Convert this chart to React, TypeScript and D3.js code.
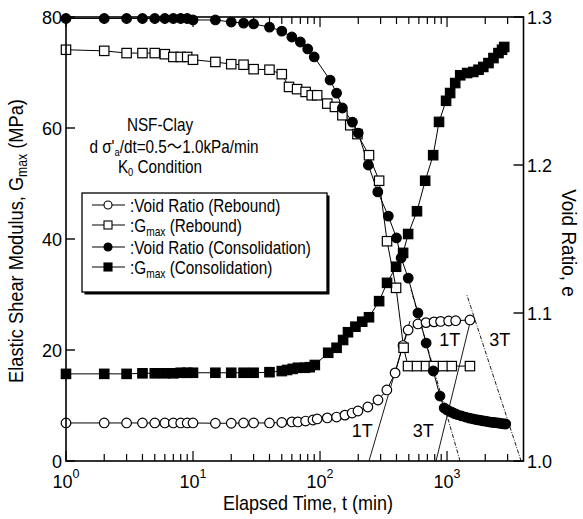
import React from "react";
import * as d3 from "d3";

// ---------- data ----------
// Consolidation: void ratio (filled circles)
const consVoidT = [1, 2, 3, 4, 5, 6, 7, 8, 9, 10, 15, 20, 25, 30, 40, 50, 60, 70, 80, 90, 120, 135, 150, 180, 200, 240, 285, 345, 400, 435, 495, 590, 685, 780, 880,
  950, 1000, 1050, 1100, 1150, 1200, 1300, 1400, 1500, 1600, 1700, 1800, 1900, 2000, 2100, 2200, 2300, 2400, 2500, 2600, 2700, 2800, 2900];
const consVoidE = [1.299, 1.299, 1.299, 1.299, 1.299, 1.299, 1.299, 1.299, 1.299, 1.298, 1.298, 1.2966, 1.2959, 1.2953, 1.2932, 1.2905, 1.2865, 1.2831, 1.2784, 1.273, 1.2574, 1.2486, 1.2385, 1.229, 1.2216, 1.2, 1.1818, 1.1655, 1.1507, 1.1372, 1.1236, 1.1, 1.0797, 1.0608, 1.0439,
  1.0358, 1.0345, 1.0335, 1.0328, 1.032, 1.0314, 1.0305, 1.0297, 1.029, 1.0284, 1.028, 1.0276, 1.0272, 1.0269, 1.0266, 1.0263, 1.0261, 1.0259, 1.0257, 1.0255, 1.0253, 1.0251, 1.025];

// Consolidation: Gmax (filled squares)
const consGT = [1, 2, 3, 4, 5, 6, 7, 8, 9, 10, 15, 20, 25, 30, 40, 50, 55, 61, 67, 76, 83, 91, 116, 135, 152, 166, 190, 215, 243, 292, 337, 397, 451, 494, 580, 673, 778, 865, 983, 1058, 1160, 1270, 1440, 1610, 1770, 1930, 2120, 2320, 2540, 2710, 2820];
const consG = [15.7, 15.7, 15.7, 15.8, 15.8, 15.8, 15.8, 15.9, 15.9, 15.9, 15.9, 15.9, 15.9, 15.9, 16.0, 16.2, 16.4, 16.6, 16.8, 16.8, 16.9, 17.3, 19.5, 20.4, 21.8, 23.2, 24.2, 25.1, 25.9, 28.8, 32.1, 35.0, 37.5, 40.9, 45.0, 50.5, 55.1, 61.1, 64.9, 66.3, 68.1, 69.5, 69.9, 70.1, 70.5, 71.0, 71.7, 72.6, 73.5, 74.1, 74.6];

// Rebound: Gmax (open squares)
const rebGT = [1, 2, 3, 4, 5, 6, 7, 8, 9, 10, 15, 20, 25, 30, 40, 50, 57, 66, 77, 86, 95, 114, 131, 150, 173, 197, 243, 292, 337, 397, 455, 493, 580, 683, 787, 930, 1090, 1515];
const rebG = [74.1, 73.9, 73.5, 73.5, 73.5, 73.3, 72.8, 72.8, 72.8, 72.3, 71.9, 71.5, 71.4, 70.6, 70.5, 69.7, 67.4, 67.0, 66.5, 65.9, 65.9, 64.4, 63.8, 62.3, 60.5, 58.9, 55.1, 50.5, 39.6, 31.2, 20.4, 17.1, 17.1, 17.1, 17.1, 17.1, 17.1, 17.1];

// Rebound: void ratio (open circles)
const rebVoidT = [1, 2, 3, 4, 5, 6, 7, 8, 9, 10, 15, 20, 25, 30, 40, 50, 60, 67, 77, 88, 95, 114, 135, 157, 179, 199, 238, 286, 336, 390, 450, 494, 590, 683, 790, 890, 1030, 1170, 1515];
const rebVoidE = [1.0257, 1.0257, 1.0257, 1.0257, 1.0257, 1.0257, 1.0257, 1.0257, 1.0257, 1.0257, 1.0255, 1.0255, 1.0257, 1.0257, 1.0257, 1.026, 1.0264, 1.0264, 1.027, 1.0277, 1.0284, 1.0291, 1.0297, 1.031, 1.0324, 1.0338, 1.0365, 1.0412, 1.048, 1.0595, 1.078, 1.0885, 1.0926, 1.0935, 1.094, 1.0943, 1.0946, 1.0948, 1.0953];

// Construction lines (t, e)
const tangentSolid = [
  [[243, 1.0], [511, 1.0946]],
  [[819, 1.0], [1531, 1.095]],
];
const tangentDashed = [
  [[1266, 1.0], [521, 1.1155]],
  [[3828, 1.0], [1436, 1.112]],
];
const constructLabels = [
  { t: 215, e: 1.0165, text: "1T" },
  { t: 650, e: 1.0165, text: "3T" },
  { t: 1050, e: 1.0775, text: "1T" },
  { t: 2600, e: 1.0775, text: "3T" },
];

const gTicks = [0, 20, 40, 60, 80];
const eTicks = [1.0, 1.1, 1.2, 1.3];
const eTickLabels = ["1.0", "1.1", "1.2", "1.3"];
const decadeExps = [0, 1, 2, 3];

const legendItems = [
  { label: ":Void Ratio (Rebound)", sub: "", rest: "", shape: "circle", filled: false },
  { label: ":G", sub: "max", rest: " (Rebound)", shape: "square", filled: false },
  { label: ":Void Ratio (Consolidation)", sub: "", rest: "", shape: "circle", filled: true },
  { label: ":G", sub: "max", rest: " (Consolidation)", shape: "square", filled: true },
];

const FONT = "'Liberation Sans', Arial, 'Noto Sans CJK JP', sans-serif";

export default function App() {
  const x = d3.scaleLog().domain([1, 4000]).range([66, 523.5]);
  const yG = d3.scaleLinear().domain([0, 80]).range([461, 17]);
  const yE = d3.scaleLinear().domain([1.0, 1.3]).range([461, 17]);
  const [x0, x1] = x.range();
  const yTop = 17, yBot = 461;

  const lineE = d3.line<number[]>().x((d) => x(d[0])).y((d) => yE(d[1]));
  const lineG = d3.line<number[]>().x((d) => x(d[0])).y((d) => yG(d[1]));

  const cv = consVoidT.map((t, i) => [t, consVoidE[i]]);
  const cg = consGT.map((t, i) => [t, consG[i]]);
  const rg = rebGT.map((t, i) => [t, rebG[i]]);
  const rv = rebVoidT.map((t, i) => [t, rebVoidE[i]]);

  // log ticks
  const logTicks: { t: number; major: boolean }[] = [];
  decadeExps.forEach((p) => {
    for (let m = 1; m <= 9; m++) {
      const t = m * Math.pow(10, p);
      if (t < 4000) logTicks.push({ t, major: m === 1 });
    }
  });

  const R = 4.8;
  const S = 9.4;
  const circle = (cx: number, cy: number, filled: boolean, key: any) => (
    <circle key={key} cx={cx} cy={cy} r={R} fill={filled ? "#000" : "#fff"} stroke="#000" strokeWidth={1.2} />
  );
  const square = (cx: number, cy: number, filled: boolean, key: any) => (
    <rect key={key} x={cx - S / 2} y={cy - S / 2} width={S} height={S} fill={filled ? "#000" : "#fff"} stroke="#000" strokeWidth={1.2} />
  );

  return (
    <svg width={583} height={519} style={{ position: "absolute", left: 0, top: 0, background: "#fff" }} fontFamily={FONT}>
      <rect x={0} y={0} width={583} height={519} fill="#fff" />

      {/* construction lines */}
      {tangentSolid.map((seg, i) => (
        <path key={"ts" + i} d={lineE(seg as number[][]) || ""} fill="none" stroke="#000" strokeWidth={0.9} />
      ))}
      {tangentDashed.map((seg, i) => (
        <path key={"td" + i} d={lineE(seg as number[][]) || ""} fill="none" stroke="#000" strokeWidth={0.9} strokeDasharray="4 1.5 1 1.5" />
      ))}
      {constructLabels.map((l, i) => (
        <text key={"cl" + i} x={x(l.t)} y={yE(l.e)} fontSize={18} textAnchor="middle">{l.text}</text>
      ))}

      {/* series lines */}
      <path d={lineE(rv) || ""} fill="none" stroke="#000" strokeWidth={1} />
      <path d={lineG(rg) || ""} fill="none" stroke="#000" strokeWidth={1} />
      <path d={lineE(cv) || ""} fill="none" stroke="#000" strokeWidth={1} />
      <path d={lineG(cg) || ""} fill="none" stroke="#000" strokeWidth={1} />

      {/* markers */}
      {rv.map((d, i) => circle(x(d[0]), yE(d[1]), false, "rv" + i))}
      {rg.map((d, i) => square(x(d[0]), yG(d[1]), false, "rg" + i))}
      {cv.map((d, i) => circle(x(d[0]), yE(d[1]), true, "cv" + i))}
      {cg.map((d, i) => square(x(d[0]), yG(d[1]), true, "cg" + i))}

      {/* frame */}
      <rect x={x0} y={yTop} width={x1 - x0} height={yBot - yTop} fill="none" stroke="#000" strokeWidth={1.6} />

      {/* x ticks bottom & top */}
      {logTicks.map((tk, i) => {
        const xx = x(tk.t);
        const len = tk.major ? 10 : 7;
        return (
          <g key={"xt" + i}>
            <line x1={xx} x2={xx} y1={yBot} y2={yBot - len} stroke="#000" strokeWidth={1.2} />
            <line x1={xx} x2={xx} y1={yTop} y2={yTop + len} stroke="#000" strokeWidth={1.2} />
          </g>
        );
      })}
      {decadeExps.map((p) => (
        <text key={"xl" + p} x={x(Math.pow(10, p))} y={488} fontSize={18} textAnchor="middle">
          {"10"}
          <tspan dy={-10} fontSize={12.5}>{String(p)}</tspan>
        </text>
      ))}

      {/* left ticks */}
      {gTicks.map((g) => (
        <g key={"gt" + g}>
          <line x1={x0} x2={x0 + 9} y1={yG(g)} y2={yG(g)} stroke="#000" strokeWidth={1.4} />
          <text x={62} y={yG(g) + 6.5} fontSize={18} textAnchor="end">{String(g)}</text>
        </g>
      ))}

      {/* right ticks */}
      {eTicks.map((e, i) => (
        <g key={"et" + i}>
          <line x1={x1} x2={x1 - 10} y1={yE(e)} y2={yE(e)} stroke="#000" strokeWidth={1.4} />
          <text x={527} y={yE(e) + 6.5} fontSize={18} textAnchor="start">{eTickLabels[i]}</text>
        </g>
      ))}

      {/* axis titles */}
      <g transform="translate(23,241) rotate(-90) scale(0.87,1)">
        <text x={0} y={0} fontSize={21} textAnchor="middle">
          {"Elastic Shear Modulus,  G"}
          <tspan fontSize={14} dy={4}>max</tspan>
          <tspan dy={-4}>{" (MPa)"}</tspan>
        </text>
      </g>
      <g transform="translate(562,243) rotate(90) scale(0.95,1)">
        <text x={0} y={0} fontSize={20} textAnchor="middle">Void Ratio, e</text>
      </g>
      <g transform="translate(308,510) scale(0.9,1)">
        <text x={0} y={0} fontSize={20} textAnchor="middle">Elapsed Time, t (min)</text>
      </g>

      {/* annotation */}
      <g transform="translate(160,131) scale(0.85,1)">
        <text x={0} y={0} fontSize={18} textAnchor="middle">NSF-Clay</text>
      </g>
      <g transform="translate(174,153) scale(0.85,1)">
        <text x={0} y={0} fontSize={18} textAnchor="middle">
          {"d σ'"}
          <tspan fontSize={11} dy={3}>a</tspan>
          <tspan dy={-3}>{"/dt=0.5〜1.0kPa/min"}</tspan>
        </text>
      </g>
      <g transform="translate(160,173) scale(0.85,1)">
        <text x={0} y={0} fontSize={18} textAnchor="middle">
          {"K"}
          <tspan fontSize={11} dy={3}>0</tspan>
          <tspan dy={-3}>{" Condition"}</tspan>
        </text>
      </g>

      {/* legend */}
      <rect x={84.5} y={195.5} width={245} height={99} fill="#000" />
      <rect x={82} y={193} width={245} height={99} fill="#fff" stroke="#000" strokeWidth={1.3} />
      {legendItems.map((it, i) => {
        const cy = [205, 225, 247, 267][i];
        return (
          <g key={"lg" + i}>
            <line x1={92} x2={125} y1={cy} y2={cy} stroke="#000" strokeWidth={1} />
            {it.shape === "circle"
              ? <circle cx={108} cy={cy} r={4} fill={it.filled ? "#000" : "#fff"} stroke="#000" strokeWidth={1.1} />
              : <rect x={104} y={cy - 4} width={8} height={8} fill={it.filled ? "#000" : "#fff"} stroke="#000" strokeWidth={1.1} />}
            <g transform={`translate(130,${cy + 6.5}) scale(0.85,1)`}>
              <text x={0} y={0} fontSize={18}>
                {it.label}
                {it.sub ? <tspan fontSize={12} dy={4}>{it.sub}</tspan> : null}
                {it.rest ? <tspan dy={-4}>{it.rest}</tspan> : null}
              </text>
            </g>
          </g>
        );
      })}
    </svg>
  );
}
